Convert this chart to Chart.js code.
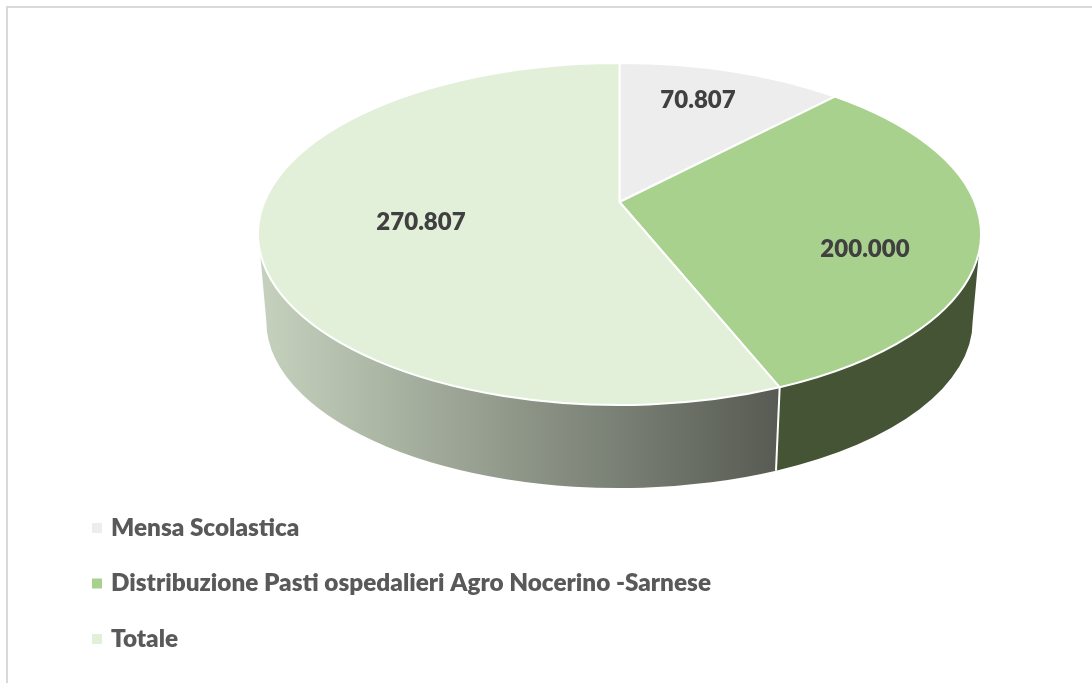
<!DOCTYPE html>
<html>
  <head>
    <title>
      Pasti erogati
    </title>
    <script src="https://cdn.jsdelivr.net/npm/chart.js"></script>
    <style>
      body { margin: 0; background: #fff; }
      #frame { position: absolute; left: 6px; top: 6px; right: 0; bottom: 0; border-left: 2px solid #d9d9d9; border-top: 2px solid #d9d9d9; }
      canvas { position: absolute; left: 0; top: 0; }
    </style>
  </head>
  <body>
    <div id="frame"></div>
    <canvas id="myChart" width="1092" height="683"></canvas>
    <script>
      'use strict'
      const categories = ['Mensa Scolastica', 'Distribuzione Pasti ospedalieri Agro Nocerino -Sarnese', 'Totale'];
      const values = [70807, 200000, 270807];
      const sliceColors = ['#EDEDED', '#A9D18E', '#E2F0D9'];

      const FONT = 'Lato, Carlito, sans-serif';
      const rad = Math.PI / 180;

      // Where the value labels sit on the disc
      const labelPos = [[698, 100], [865, 249], [421, 222]];

      // Tilted disc settings
      const hubLift = 32;        // hub sits above the ellipse centre
      const skew = 26.3 * rad;   // angle squeeze from the tilt
      const wallDrop = 87;
      const wallShrink = 0.977;
      const wallFrom = 96 * rad;
      const wallTo = 264 * rad;

      // Slice angle (0 = top, clockwise) to parameter on the ellipse
      function tilt(angle) {
        return angle - skew * Math.sin(angle / 2);
      }

      function wallFill(ctx, index, cx, rx) {
        if (index === 1) return '#445435';
        const grad = ctx.createLinearGradient(cx - rx, 0, cx + 0.44 * rx, 0);
        grad.addColorStop(0, '#c6d2be');
        grad.addColorStop(1, '#575b53');
        return grad;
      }

      const tiltedPie = {
        id: 'tiltedPie',
        beforeDatasetsDraw(chart) {
          const ctx = chart.ctx;
          const area = chart.chartArea;
          const arcs = chart.getDatasetMeta(0).data;
          const cx = arcs[0].x;
          const cy = arcs[0].y;
          const rx = area.width / 2;
          const ry = area.height / 2;

          const spans = arcs.map(arc => ({
            start: tilt(arc.startAngle + Math.PI / 2),
            end: tilt(arc.endAngle + Math.PI / 2),
          }));

          ctx.save();
          ctx.strokeStyle = '#fff';
          ctx.lineWidth = 2;
          ctx.lineJoin = 'round';

          // side wall
          spans.forEach((span, i) => {
            const from = Math.max(span.start, wallFrom);
            const to = Math.min(span.end, wallTo);
            if (to <= from) return;
            // the lower rim runs on to its own widest points
            const lowFrom = from === wallFrom ? Math.PI / 2 : from;
            const lowTo = to === wallTo ? 1.5 * Math.PI : to;
            ctx.beginPath();
            ctx.ellipse(cx, cy + wallDrop, rx * wallShrink, ry * wallShrink, 0, lowFrom - Math.PI / 2, lowTo - Math.PI / 2);
            ctx.ellipse(cx, cy, rx, ry, 0, to - Math.PI / 2, from - Math.PI / 2, true);
            ctx.closePath();
            ctx.fillStyle = wallFill(ctx, i, cx, rx);
            ctx.fill();
          });

          // white seam where two walls meet
          spans.forEach(span => {
            if (span.start <= wallFrom || span.start >= wallTo) return;
            ctx.beginPath();
            ctx.moveTo(cx + rx * Math.sin(span.start), cy - ry * Math.cos(span.start));
            ctx.lineTo(cx + rx * wallShrink * Math.sin(span.start), cy + wallDrop - ry * wallShrink * Math.cos(span.start));
            ctx.stroke();
          });

          // top face
          spans.forEach((span, i) => {
            ctx.beginPath();
            ctx.moveTo(cx, cy - hubLift);
            ctx.ellipse(cx, cy, rx, ry, 0, span.start - Math.PI / 2, span.end - Math.PI / 2);
            ctx.closePath();
            ctx.fillStyle = sliceColors[i];
            ctx.fill();
            ctx.stroke();
          });
          ctx.restore();

          return false;
        },
        afterDraw(chart) {
          const ctx = chart.ctx;
          ctx.save();
          ctx.textBaseline = 'middle';

          // value labels
          ctx.font = '800 24px ' + FONT;
          ctx.fillStyle = '#404040';
          ctx.textAlign = 'center';
          values.forEach((value, i) => {
            ctx.fillText(value.toLocaleString('it-IT'), labelPos[i][0], labelPos[i][1]);
          });

          // legend, one entry per row
          ctx.font = '800 24.3px ' + FONT;
          ctx.textAlign = 'left';
          categories.forEach((name, i) => {
            const y = 528 + i * 55.5;
            ctx.fillStyle = sliceColors[i];
            ctx.fillRect(92, y - 5, 10, 10);
            ctx.fillStyle = '#595959';
            ctx.fillText(name, 111, y);
          });
          ctx.restore();
        },
      };

      new Chart(document.getElementById('myChart'), {
        type: 'pie',
        data: {
          labels: categories,
          datasets: [{
            data: values,
            backgroundColor: sliceColors,
            borderWidth: 0,
          }]
        },
        options: {
          responsive: false,
          animation: false,
          layout: { padding: { left: 258, right: 111, top: 63, bottom: 278 } },
          plugins: {
            legend: { display: false },
            tooltip: { enabled: false },
          },
        },
        plugins: [tiltedPie],
      });
    </script>
  </body>
</html>
